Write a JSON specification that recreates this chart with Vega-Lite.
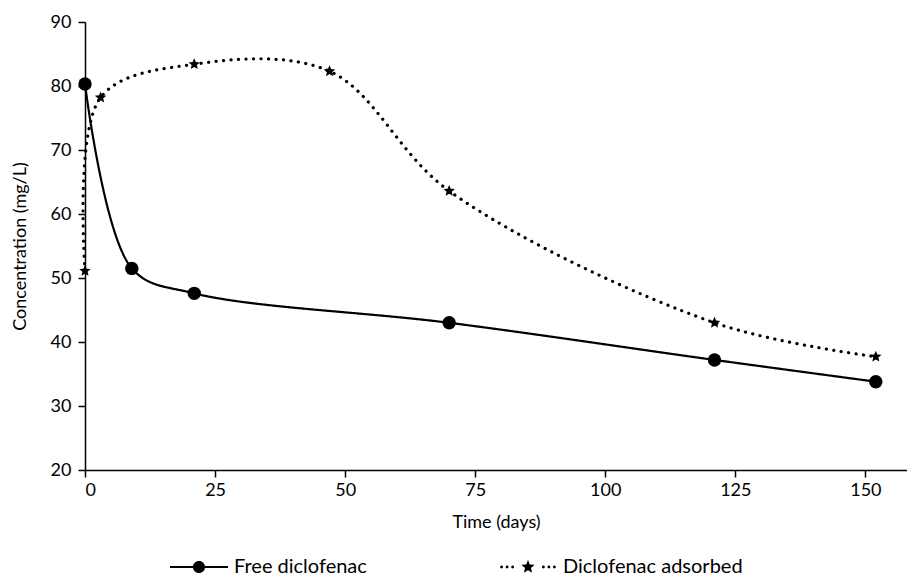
{
  "$schema": "https://vega.github.io/schema/vega-lite/v6.json",
  "autosize": "none",
  "width": 822,
  "height": 448,
  "padding": {"left": 85, "top": 22, "right": 0, "bottom": 108},
  "background": "white",
  "config": {
    "view": {"stroke": null},
    "font": "Lato",
    "axis": {
      "grid": false,
      "domainColor": "black",
      "domainWidth": 1.5,
      "tickColor": "black",
      "tickWidth": 1.5,
      "tickSize": 7,
      "labelFont": "Lato",
      "labelFontSize": 18,
      "labelColor": "black",
      "titleFont": "Lato",
      "titleFontSize": 18,
      "titleFontWeight": "normal",
      "titleColor": "black"
    },
    "legend": {"padding": 0}
  },
  "data": {
    "values": [
      {"series": "Free diclofenac", "day": 0, "conc": 80.3},
      {"series": "Free diclofenac", "day": 9, "conc": 51.5},
      {"series": "Free diclofenac", "day": 21, "conc": 47.6},
      {"series": "Free diclofenac", "day": 70, "conc": 43.0},
      {"series": "Free diclofenac", "day": 121, "conc": 37.2},
      {"series": "Free diclofenac", "day": 152, "conc": 33.8},
      {"series": "Diclofenac adsorbed", "day": 0, "conc": 51.1},
      {"series": "Diclofenac adsorbed", "day": 3, "conc": 78.2},
      {"series": "Diclofenac adsorbed", "day": 21, "conc": 83.4},
      {"series": "Diclofenac adsorbed", "day": 47, "conc": 82.3},
      {"series": "Diclofenac adsorbed", "day": 70, "conc": 63.6},
      {"series": "Diclofenac adsorbed", "day": 121, "conc": 43.0},
      {"series": "Diclofenac adsorbed", "day": 152, "conc": 37.7}
    ]
  },
  "encoding": {
    "x": {
      "field": "day",
      "type": "quantitative",
      "scale": {"domain": [0, 158], "nice": false, "zero": false},
      "axis": {"values": [0, 25, 50, 75, 100, 125, 150], "title": "Time (days)", "labelPadding": 4, "titlePadding": 14}
    },
    "y": {
      "field": "conc",
      "type": "quantitative",
      "scale": {"domain": [20, 90], "nice": false, "zero": false},
      "axis": {"values": [20, 30, 40, 50, 60, 70, 80, 90], "title": "Concentration (mg/L)", "labelPadding": 7, "titlePadding": 21}
    }
  },
  "layer": [
    {
      "mark": {"type": "line", "interpolate": "catmull-rom", "color": "black", "strokeCap": "round"},
      "encoding": {
        "detail": {"field": "series"},
        "strokeDash": {
          "condition": {"test": "datum.series === 'Diclofenac adsorbed'", "value": [0.1, 7.4]},
          "value": [1, 0]
        },
        "strokeWidth": {
          "condition": {"test": "datum.series === 'Diclofenac adsorbed'", "value": 3.2},
          "value": 2.2
        }
      }
    },
    {
      "mark": {"type": "point", "filled": true, "opacity": 1, "color": "black", "size": 180},
      "encoding": {
        "shape": {
          "field": "series",
          "type": "nominal",
          "scale": {
            "domain": ["Free diclofenac", "Diclofenac adsorbed"],
            "range": ["circle", "M0,-0.9L0.238,-0.328L0.856,-0.278L0.385,0.125L0.529,0.728L0,0.405L-0.529,0.728L-0.385,0.125L-0.856,-0.278L-0.238,-0.328Z"]
          },
          "legend": null
        }
      }
    },
    {
      "mark": {"type": "point", "filled": true, "opacity": 0, "color": "black", "size": 1},
      "encoding": {
        "shape": {
          "field": "series",
          "type": "nominal",
          "scale": {
            "domain": ["Free diclofenac", "Diclofenac adsorbed"],
            "range": [
              "M-1,-0.038H1V0.038H-1ZM-0.21,0A0.21,0.21 0 1,1 0.21,0A0.21,0.21 0 1,1 -0.21,0Z",
              "M-0.96,0A0.05,0.05 0 1,1 -0.86,0A0.05,0.05 0 1,1 -0.96,0ZM-0.77,0A0.05,0.05 0 1,1 -0.67,0A0.05,0.05 0 1,1 -0.77,0ZM-0.58,0A0.05,0.05 0 1,1 -0.48,0A0.05,0.05 0 1,1 -0.58,0ZM0.48,0A0.05,0.05 0 1,1 0.58,0A0.05,0.05 0 1,1 0.48,0ZM0.67,0A0.05,0.05 0 1,1 0.77,0A0.05,0.05 0 1,1 0.67,0ZM0.86,0A0.05,0.05 0 1,1 0.96,0A0.05,0.05 0 1,1 0.86,0ZM0,-0.24L0.063,-0.087L0.228,-0.074L0.103,0.034L0.141,0.194L0,0.108L-0.141,0.194L-0.103,0.034L-0.228,-0.074L-0.063,-0.087Z"
            ]
          },
          "legend": {
            "title": null,
            "orient": "none",
            "legendX": 85,
            "legendY": 516,
            "direction": "horizontal",
            "symbolSize": 3364,
            "symbolOpacity": 1,
            "symbolFillColor": "black",
            "symbolStrokeWidth": 0,
            "labelFont": "Lato",
            "labelFontSize": 20,
            "labelColor": "black",
            "labelOffset": 6,
            "columnPadding": 132,
            "labelLimit": 400,
            "encode": {
              "symbols": {
                "update": {
                  "opacity": {"value": 1},
                  "fill": {"value": "black"},
                  "strokeWidth": {"value": 0}
                }
              }
            }
          }
        }
      }
    }
  ],
  "resolve": {"scale": {"shape": "independent"}, "legend": {"shape": "independent"}}
}
